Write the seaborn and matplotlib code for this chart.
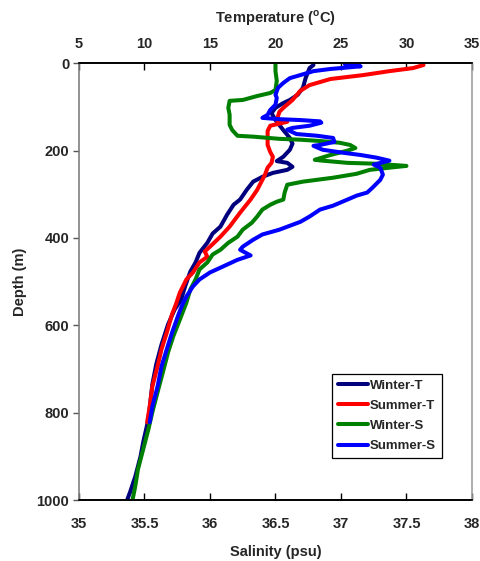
import numpy as np
import pandas as pd
import matplotlib
matplotlib.use("Agg")
import matplotlib.pyplot as plt
import seaborn as sns

# ---- profile data: depth (m) with temperature (degC) or salinity (psu) ----
winter_t_depth = [4, 11, 34, 56, 72, 84, 91, 102, 114, 130, 153, 171, 184, 198, 214, 224,
                  228, 237, 244, 251, 260, 271, 290, 312, 324, 347, 374, 390, 411, 434, 456,
                  477, 511, 541, 564, 598, 644, 689, 735, 815, 868, 900, 946, 982, 998]
winter_t = [22.9, 22.6, 22.3, 22.1, 21.7, 21.1, 20.6, 20.0, 19.7, 20.0, 20.6, 21.1, 21.3,
            21.1, 20.6, 20.1, 20.9, 21.3, 20.9, 19.8, 19.0, 18.3, 17.8, 17.3, 16.8, 16.3,
            15.8, 15.2, 14.8, 14.2, 13.9, 13.5, 13.1, 12.8, 12.3, 11.8, 11.3, 10.9, 10.6,
            10.3, 9.9, 9.7, 9.3, 8.9, 8.7]

summer_t_depth = [4, 11, 18, 27, 36, 50, 63, 84, 102, 111, 130, 134, 143, 155, 166, 187,
                  203, 214, 228, 239, 255, 267, 290, 312, 342, 374, 397, 420, 431, 443, 456,
                  479, 495, 525, 552, 575, 617, 655, 694, 740, 786, 822]
summer_t = [31.3, 30.5, 28.7, 26.7, 24.2, 22.6, 21.9, 21.3, 20.6, 20.3, 20.1, 20.9, 19.6,
            19.4, 19.4, 19.4, 19.6, 19.8, 19.7, 19.4, 19.2, 19.0, 18.6, 18.1, 17.3, 16.5,
            15.8, 15.0, 14.6, 14.8, 14.2, 13.7, 13.2, 12.7, 12.4, 12.1, 11.7, 11.3, 11.0,
            10.6, 10.4, 10.2]

winter_s_depth = [0, 18, 40, 61, 68, 75, 84, 86, 102, 118, 141, 153, 166, 168, 173, 175,
                  178, 182, 187, 194, 200, 210, 221, 223, 228, 230, 235, 239, 244, 253, 262,
                  271, 278, 296, 312, 317, 324, 335, 351, 365, 381, 397, 411, 427, 438, 456,
                  472, 495, 518, 548, 587, 625, 662, 708, 753, 799, 838, 884, 930, 968, 998]
winter_s = [36.50, 36.50, 36.51, 36.50, 36.46, 36.36, 36.25, 36.15, 36.14, 36.15, 36.15,
            36.17, 36.21, 36.33, 36.53, 36.69, 36.84, 36.99, 37.07, 37.11, 37.05, 36.92,
            36.80, 36.86, 37.05, 37.27, 37.50, 37.37, 37.22, 37.12, 36.94, 36.71, 36.59,
            36.57, 36.56, 36.51, 36.46, 36.40, 36.36, 36.32, 36.25, 36.21, 36.14, 36.08,
            36.02, 35.98, 35.92, 35.89, 35.85, 35.82, 35.77, 35.72, 35.68, 35.64, 35.60,
            35.56, 35.53, 35.49, 35.45, 35.43, 35.41]

summer_s_depth = [2, 7, 13, 18, 27, 34, 45, 56, 72, 79, 95, 107, 118, 125, 128, 130, 133,
                  136, 143, 148, 152, 162, 166, 171, 180, 187, 189, 198, 205, 210, 216, 223,
                  232, 239, 255, 267, 285, 296, 303, 312, 326, 335, 351, 363, 372, 381, 392,
                  404, 420, 427, 440, 450, 468, 479, 495, 511, 534, 552, 575, 617, 655, 694,
                  740, 786, 822]
summer_s = [37.03, 37.15, 36.92, 36.79, 36.69, 36.61, 36.56, 36.52, 36.50, 36.51, 36.50,
            36.46, 36.44, 36.40, 36.53, 36.69, 36.84, 36.85, 36.76, 36.63, 36.59, 36.66,
            36.82, 36.94, 36.95, 36.84, 36.79, 36.86, 37.02, 37.15, 37.27, 37.37, 37.25,
            37.30, 37.32, 37.30, 37.24, 37.20, 37.12, 37.05, 36.94, 36.84, 36.76, 36.69,
            36.61, 36.53, 36.40, 36.33, 36.25, 36.23, 36.31, 36.21, 36.08, 36.00, 35.92,
            35.87, 35.82, 35.79, 35.76, 35.71, 35.67, 35.63, 35.60, 35.56, 35.54]

series_labels = ["Winter-T", "Summer-T", "Winter-S", "Summer-S"]
series_colors = ["#00007F", "#FF0000", "#008000", "#0000FF"]

temp_ticks = [5, 10, 15, 20, 25, 30, 35]
sal_ticks = [35, 35.5, 36, 36.5, 37, 37.5, 38]
sal_tick_labels = ["35", "35.5", "36", "36.5", "37", "37.5", "38"]
depth_ticks = [0, 200, 400, 600, 800, 1000]

# ---- style ----
sns.set_theme(style="white")
plt.rcParams["font.family"] = ["Liberation Sans", "DejaVu Sans"]
plt.rcParams["font.weight"] = "bold"
plt.rcParams["mathtext.fontset"] = "custom"
plt.rcParams["mathtext.rm"] = "Liberation Sans:bold"
plt.rcParams["mathtext.bf"] = "Liberation Sans:bold"

fig = plt.figure(figsize=(4.81, 5.61), dpi=100)
ax = fig.add_axes([0.1642, 0.1087, 0.8170, 0.7785])   # salinity (bottom) axis
ax_t = ax.twiny()                                      # temperature (top) axis

# salinity lines drawn above the temperature lines
ax.set_zorder(ax_t.get_zorder() + 1)
ax.patch.set_visible(False)

lw = 2.9
wt = pd.DataFrame({"depth": winter_t_depth, "value": winter_t})
st = pd.DataFrame({"depth": summer_t_depth, "value": summer_t})
ws = pd.DataFrame({"depth": winter_s_depth, "value": winter_s})
ss = pd.DataFrame({"depth": summer_s_depth, "value": summer_s})

sns.lineplot(data=wt, x="value", y="depth", sort=False, estimator=None, ax=ax_t,
             color=series_colors[0], lw=lw, label=series_labels[0], legend=False)
sns.lineplot(data=st, x="value", y="depth", sort=False, estimator=None, ax=ax_t,
             color=series_colors[1], lw=lw, label=series_labels[1], legend=False)
sns.lineplot(data=ws, x="value", y="depth", sort=False, estimator=None, ax=ax,
             color=series_colors[2], lw=lw, label=series_labels[2], legend=False)
sns.lineplot(data=ss, x="value", y="depth", sort=False, estimator=None, ax=ax,
             color=series_colors[3], lw=lw, label=series_labels[3], legend=False)

# ---- axes ----
ax.set_xlim(35, 38)
ax_t.set_xlim(5, 35)
ax.set_ylim(1000, 0)

ax.set_xticks(sal_ticks)
ax.set_xticklabels(sal_tick_labels)
ax_t.set_xticks(temp_ticks)
ax.set_yticks(depth_ticks)

fs = 10.5
ax.set_xlabel("Salinity (psu)", fontsize=fs, fontweight="bold", labelpad=10)
ax_t.set_xlabel(r"Temperature ($^{\mathrm{o}}$C)", fontsize=fs, fontweight="bold", labelpad=10)
ax.set_ylabel("Depth (m)", fontsize=fs, fontweight="bold", labelpad=7)
ax_t.set_ylabel("")

ax.tick_params(axis="x", direction="in", length=5, width=1, pad=12, labelsize=fs,
               bottom=True, top=False, color="black")
ax_t.tick_params(axis="x", direction="in", length=5, width=1, pad=9, labelsize=fs,
                 top=True, bottom=False, color="black")
ax.tick_params(axis="y", direction="out", length=4, width=1, pad=3, labelsize=fs,
               left=True, right=False, color="#555555")
ax_t.tick_params(axis="y", left=False, right=False, labelleft=False, labelright=False)
for t in ax.get_xticklabels() + ax_t.get_xticklabels() + ax.get_yticklabels():
    t.set_fontweight("bold")

for a in (ax, ax_t):
    a.spines["top"].set_color("black")
    a.spines["bottom"].set_color("black")
    a.spines["left"].set_color("#7F7F7F")
    a.spines["right"].set_color("#A0A0A0")
    for s in a.spines.values():
        s.set_linewidth(1.2)
ax_t.spines["left"].set_visible(False)
ax_t.spines["right"].set_visible(False)

# ---- legend ----
handles = ax_t.get_lines() + ax.get_lines()
leg = ax.legend(handles, series_labels, loc="lower left", bbox_to_anchor=(0.644, 0.096),
                frameon=True, fancybox=False, edgecolor="black", framealpha=1,
                prop={"size": 9.5, "weight": "bold"}, handlelength=2.3, handletextpad=0.1,
                labelspacing=0.6, borderpad=0.45, borderaxespad=0)
leg.get_frame().set_linewidth(0.9)

fig.savefig("out.png", dpi=100, facecolor="white")
